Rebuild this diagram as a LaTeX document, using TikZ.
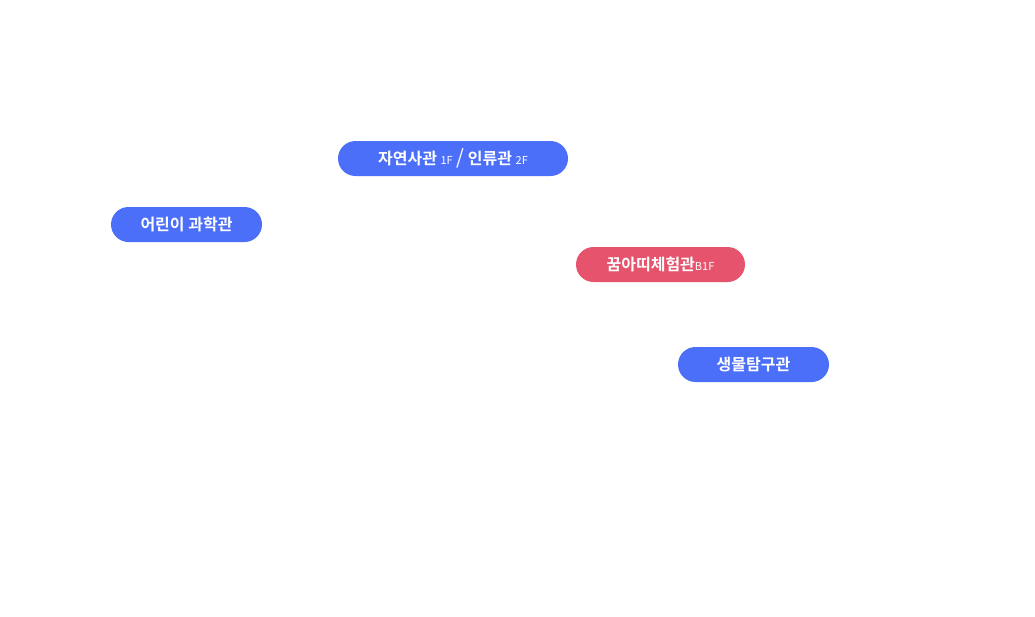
\documentclass[tikz,border=0pt]{standalone}
\usepackage{fontspec}
\usetikzlibrary{shapes.misc}
\setmainfont{Noto Sans CJK KR}[BoldFont={* Bold}]
\newfontfamily\krlight{Noto Sans CJK KR}
\definecolor{hallblue}{HTML}{4B6FF8}
\definecolor{hallred}{HTML}{E5536C}
\begin{document}
\begin{tikzpicture}[x=1pt,y=-1pt,
    hall/.style={rounded rectangle, fill=hallblue, text=white, minimum height=35pt,
      inner sep=0pt, font=\fontsize{16}{18}\selectfont\bfseries},
    floor/.style={font=\fontsize{11}{12}\selectfont}
    ]
    \useasboundingbox[fill=white] (0,0) rectangle (1035,616);

    % Halls
    \node[hall, minimum width=230pt] (natural) at (453,158.5)
      {자연사관 {\mdseries\fontsize{11}{12}\selectfont 1F} {\krlight\mdseries\fontsize{20}{20}\selectfont /} 인류관 {\mdseries\fontsize{11}{12}\selectfont 2F}};
    \node[hall, minimum width=151pt] (children) at (186.5,224.5) {어린이 과학관};
    \node[hall, fill=hallred, minimum width=169pt] (dream) at (660.5,264.5)
      {꿈아띠체험관{\mdseries\fontsize{11}{12}\selectfont B1F}};
    \node[hall, minimum width=151pt] (bio) at (753.5,364.5) {생물탐구관};
\end{tikzpicture}
\end{document}
